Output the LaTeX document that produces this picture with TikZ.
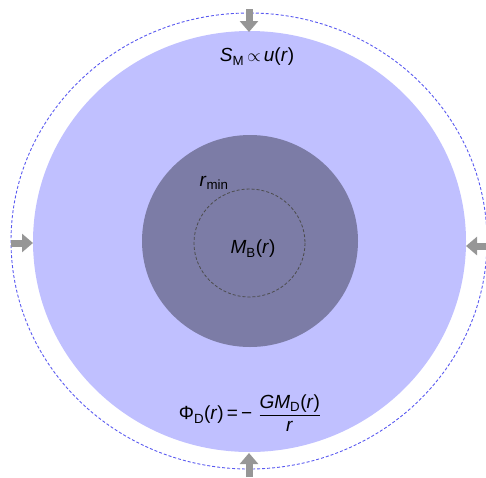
\documentclass[tikz,border=0pt]{standalone}
\usepackage{amsmath}
\usepackage{fontspec}
\setmainfont{Liberation Sans}
\usepackage{xcolor}
\usetikzlibrary{positioning, arrows.meta}

\definecolor{haloblue}{RGB}{192,192,255}
\definecolor{coregray}{RGB}{124,124,166}
\definecolor{rimblue}{RGB}{90,90,240}
\definecolor{pushgray}{RGB}{150,150,150}

\begin{document}
\begin{tikzpicture}[
    x=1pt, y=-1pt,
    every node/.style={align=center, font=\fontsize{19}{22}\selectfont},
    push/.style={line width=7pt, draw=pushgray, -{Triangle[width=18pt,length=11pt]}}
]
    \useasboundingbox (0,0) rectangle (486,477);

    % halo, core and edges
    \fill[haloblue] (249.5,241.5) ellipse [x radius=216.5, y radius=210.5];
    \draw[rimblue, dash pattern=on 3pt off 2pt, line width=0.9pt] (249,241) ellipse [x radius=238, y radius=228];
    \fill[coregray] (250,241) ellipse [x radius=108, y radius=106];
    \draw[black!70, dash pattern=on 3pt off 2pt, line width=0.8pt] (249.5,243) ellipse [x radius=55.5, y radius=54];

    % labels
    \node (sm) at (257,57) {\textit{S}\textsubscript{M}\,$\propto$\,\textit{u}(\textit{r})};
    \node (rmin) at (214,183) {\textit{r}\textsubscript{min}};
    \node (mb) at (253,249) {\textit{M}\textsubscript{B}(\textit{r})};
    \node (phi) at (250,413) {$\text{Φ\textsubscript{D}(\textit{r})\,=\,−\,}\,\dfrac{\text{\textit{GM}\textsubscript{D}(\textit{r})}}{\text{\textit{r}}}$};

    % pressure arrows
    \coordinate (ntail) at (249,9);
    \coordinate (nhead) at (249,32);
    \coordinate (wtail) at (11,243);
    \coordinate (whead) at (33,243);
    \coordinate (etail) at (486,246);
    \coordinate (ehead) at (466,246);
    \coordinate (stail) at (249,477);
    \coordinate (shead) at (249,453);
    \draw[push] (ntail) -- (nhead);
    \draw[push] (wtail) -- (whead);
    \draw[push] (etail) -- (ehead);
    \draw[push] (stail) -- (shead);
\end{tikzpicture}
\end{document}
